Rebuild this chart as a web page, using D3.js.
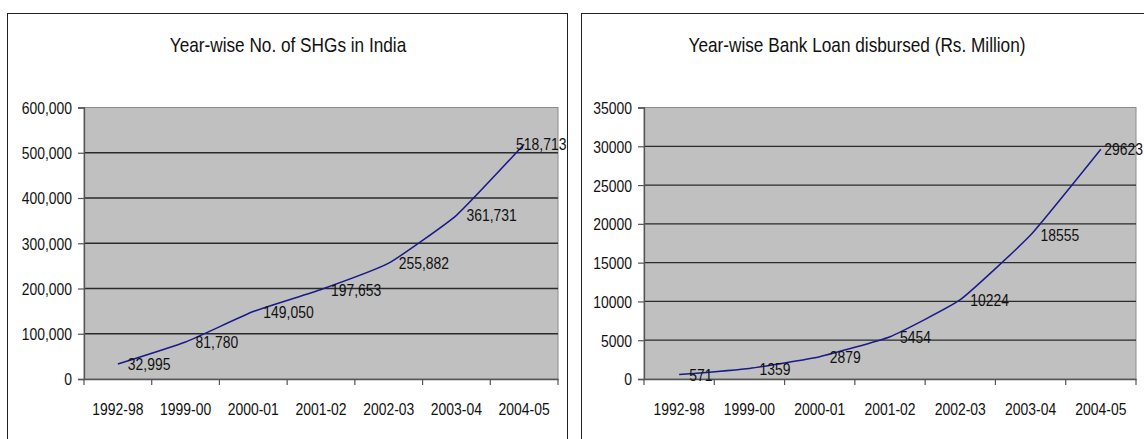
<!DOCTYPE html>
<html>
<head>
<meta charset="utf-8">
<script src="https://cdn.jsdelivr.net/npm/d3@7"></script>
<style>
  html, body { margin: 0; padding: 0; background: #fff; }
  svg { display: block; }
  text { font-family: "Liberation Sans", Arial, sans-serif; fill: #111; }
</style>
</head>
<body>
<svg id="chart" width="1144" height="439"></svg>
<script>
// ---- data ----
const categories = ["1992-98", "1999-00", "2000-01", "2001-02", "2002-03", "2003-04", "2004-05"];
const shgCounts = [32995, 81780, 149050, 197653, 255882, 361731, 518713];
const bankLoans = [571, 1359, 2879, 5454, 10224, 18555, 29623];
const shgTicks = [0, 100000, 200000, 300000, 400000, 500000, 600000];
const loanTicks = [0, 5000, 10000, 15000, 20000, 25000, 30000, 35000];
const titles = ["Year-wise No. of SHGs in India", "Year-wise Bank Loan disbursed (Rs. Million)"];

const NARROW = 0.82; // emulate a narrow sans face by horizontal scaling
const W = 1144;
const svg = d3.select("#chart");

// place a text at (x,y) with narrow horizontal scaling
function narrowText(sel, x, y) {
  sel.attr("x", 0).attr("y", 0)
     .attr("transform", (d, i, n) => `translate(${typeof x === "function" ? x(d, i, n) : x},${typeof y === "function" ? y(d, i, n) : y}) scale(${NARROW},1)`);
}

const panels = [
  { frame: {x: 7.5, y: 13.5, w: 560, h: 440}, plot: {x0: 84, x1: 558, y0: 107.5, y1: 379},
    titleX: 288, values: shgCounts, ticks: shgTicks, max: 600000, fmt: d3.format(",") },
  { frame: {x: 581.5, y: 13.5, w: 600, h: 440}, plot: {x0: 644, x1: 1136, y0: 107.5, y1: 379},
    titleX: 857, values: bankLoans, ticks: loanTicks, max: 35000, fmt: d3.format("d") }
];

panels.forEach((p, i) => {
  const g = svg.append("g");
  // outer frame
  g.append("rect").attr("x", p.frame.x).attr("y", p.frame.y)
    .attr("width", p.frame.w).attr("height", p.frame.h)
    .attr("fill", "#fff").attr("stroke", "#222").attr("stroke-width", 1);

  // title
  g.append("text").attr("text-anchor", "middle").style("font-size", "21px")
    .text(titles[i]).call(narrowText, p.titleX, 52);

  const x = d3.scaleBand().domain(categories).range([p.plot.x0, p.plot.x1]).padding(0);
  const y = d3.scaleLinear().domain([0, p.max]).range([p.plot.y1, p.plot.y0]);

  // plot area
  g.append("rect").attr("x", p.plot.x0).attr("y", p.plot.y0)
    .attr("width", p.plot.x1 - p.plot.x0).attr("height", p.plot.y1 - p.plot.y0)
    .attr("fill", "#c0c0c0").attr("stroke", "#8c8c8c").attr("stroke-width", 1);

  // gridlines
  g.append("g").selectAll("line").data(p.ticks.filter(t => t > 0 && t < p.max)).join("line")
    .attr("x1", p.plot.x0).attr("x2", p.plot.x1)
    .attr("y1", d => y(d)).attr("y2", d => y(d))
    .attr("stroke", "#2a2a2a").attr("stroke-width", 1.3);

  // y axis
  const yAxis = g.append("g").attr("transform", `translate(${p.plot.x0},0)`)
    .call(d3.axisLeft(y).tickValues(p.ticks).tickFormat(p.fmt).tickSize(6).tickPadding(6));
  yAxis.select(".domain").attr("stroke", "#555").attr("stroke-width", 1.3);
  yAxis.selectAll(".tick line").attr("stroke", "#555").attr("stroke-width", 1.2);
  yAxis.selectAll(".tick text").style("font-size", "17px").style("font-family", null).attr("fill", "#111")
    .attr("dy", "0.35em").call(narrowText, -12, 0);

  // x axis: ticks at band boundaries
  const xAxis = g.append("g").attr("transform", `translate(0,${p.plot.y1})`)
    .call(d3.axisBottom(x).tickSize(0).tickPadding(0));
  xAxis.select(".domain").attr("stroke", "#555").attr("stroke-width", 1.3);
  xAxis.selectAll(".tick text").style("font-size", "17px").style("font-family", null).attr("fill", "#111")
    .attr("dy", "0.35em").call(narrowText, 0, 30);
  const bounds = categories.map(c => x(c)).concat([p.plot.x1]);
  g.append("g").selectAll("line").data(bounds).join("line")
    .attr("x1", d => d).attr("x2", d => d)
    .attr("y1", p.plot.y1).attr("y2", p.plot.y1 + 6)
    .attr("stroke", "#555").attr("stroke-width", 1.2);

  // line
  const pts = p.values.map((v, k) => [x(categories[k]) + x.bandwidth() / 2, y(v)]);
  g.append("path").attr("d", d3.line().curve(d3.curveCardinal.tension(0.6))(pts))
    .attr("fill", "none").attr("stroke", "#1a1a8c").attr("stroke-width", 1.5);

  // data labels, to the right of each point, kept inside the panel frame / page
  const labels = g.append("g").selectAll("text").data(pts).join("text")
    .attr("dy", "0.36em").style("font-size", "17px")
    .text((d, k) => p.fmt(p.values[k]));
  const rightLimit = Math.min(p.frame.x + p.frame.w - 1, W - 1);
  labels.call(narrowText, function(d, k, n) {
    const w = n[k].getComputedTextLength() * NARROW;
    return Math.min(d[0] + 10, rightLimit - w);
  }, d => d[1]);
});
</script>
</body>
</html>
